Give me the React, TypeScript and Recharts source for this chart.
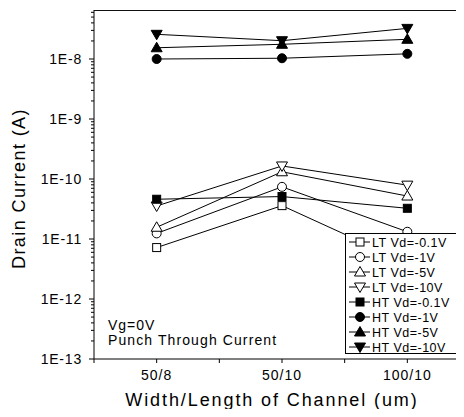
import React from 'react';
import { LineChart, Line, XAxis, YAxis, Legend, Customized } from 'recharts';

const categories = ['50/8', '50/10', '100/10'];
const ltVd01 = [7.2e-12, 3.6e-11, 4.0e-12];
const ltVd1 = [1.24e-11, 7.4e-11, 1.32e-11];
const ltVd5 = [1.57e-11, 1.32e-10, 5.2e-11];
const ltVd10 = [3.55e-11, 1.65e-10, 7.9e-11];
const htVd01 = [4.6e-11, 5.1e-11, 3.25e-11];
const htVd1 = [1.0e-8, 1.03e-8, 1.22e-8];
const htVd5 = [1.54e-8, 1.76e-8, 2.13e-8];
const htVd10 = [2.58e-8, 2.02e-8, 3.24e-8];

const yMax = 6.56e-8;
const yMin = 1e-13;
const xTickPositions = [0.5, 1, 1.5, 2, 2.5, 3, 3.5];

const FONT = "Arial, 'Liberation Sans', sans-serif";

type Kind = 'square' | 'circle' | 'up' | 'down';

const seriesDefs: { key: string; name: string; values: number[]; kind: Kind; filled: boolean }[] = [
  { key: 'ltVd01', name: 'LT Vd=-0.1V', values: ltVd01, kind: 'square', filled: false },
  { key: 'ltVd1', name: 'LT Vd=-1V', values: ltVd1, kind: 'circle', filled: false },
  { key: 'ltVd5', name: 'LT Vd=-5V', values: ltVd5, kind: 'up', filled: false },
  { key: 'ltVd10', name: 'LT Vd=-10V', values: ltVd10, kind: 'down', filled: false },
  { key: 'htVd01', name: 'HT Vd=-0.1V', values: htVd01, kind: 'square', filled: true },
  { key: 'htVd1', name: 'HT Vd=-1V', values: htVd1, kind: 'circle', filled: true },
  { key: 'htVd5', name: 'HT Vd=-5V', values: htVd5, kind: 'up', filled: true },
  { key: 'htVd10', name: 'HT Vd=-10V', values: htVd10, kind: 'down', filled: true },
];

const data = categories.map((c, i) => {
  const row: Record<string, number | string> = { x: i + 1, cat: c };
  seriesDefs.forEach((s) => {
    row[s.key] = s.values[i];
  });
  return row;
});

const yTicks: number[] = (() => {
  const t: number[] = [];
  for (let e = -13; e <= -8; e++) {
    for (let m = 1; m <= 9; m++) {
      const v = m * Math.pow(10, e);
      if (v <= yMax) t.push(v);
    }
  }
  return t;
})();

const PLOT_LEFT = 86;
const PLOT_TOP = 2;
const CHART_W = 462;
const CHART_H = 401;

function Marker({ kind, filled, cx, cy }: { kind: Kind; filled: boolean; cx: number; cy: number }) {
  const fill = filled ? '#000' : '#fff';
  const common = { fill, stroke: '#000', strokeWidth: 1 };
  if (kind === 'square') return <rect x={cx - 4} y={cy - 4} width={8} height={8} {...common} />;
  if (kind === 'circle') return <circle cx={cx} cy={cy} r={4.5} {...common} />;
  if (kind === 'up')
    return <polygon points={`${cx},${cy - 5.5} ${cx + 5.5},${cy + 4} ${cx - 5.5},${cy + 4}`} {...common} />;
  return <polygon points={`${cx},${cy + 5.5} ${cx + 5.5},${cy - 4} ${cx - 5.5},${cy - 4}`} {...common} />;
}

const YTick = (props: any) => {
  const { x, y, payload } = props;
  const v = payload.value as number;
  const lg = Math.log10(v);
  const major = Math.abs(lg - Math.round(lg)) < 1e-6;
  return (
    <g>
      <line x1={x - (major ? 5 : 3)} x2={x} y1={y} y2={y} stroke="#000" strokeWidth={1} />
      {major && (
        <text x={x - 12} y={y + 5} textAnchor="end" fontSize={14} fontFamily={FONT} letterSpacing={0.8} fill="#000">
          {`1E${Math.round(lg)}`}
        </text>
      )}
    </g>
  );
};

const XTick = (props: any) => {
  const { x, y, payload } = props;
  const v = payload.value as number;
  const idx = v - 1;
  const label = Number.isInteger(v) && idx >= 0 && idx < categories.length ? categories[idx] : '';
  return (
    <g>
      <line x1={x} x2={x} y1={y} y2={y + 4} stroke="#000" strokeWidth={1} />
      {label && (
        <text x={x} y={y + 21} textAnchor="middle" fontSize={14} fontFamily={FONT} letterSpacing={1} fill="#000">
          {label}
        </text>
      )}
    </g>
  );
};

const LegendContent = () => (
  <svg width={115} height={121} style={{ display: 'block' }}>
    <rect x={0.5} y={0.5} width={114} height={120} fill="#fff" stroke="#000" strokeWidth={1} />
    {seriesDefs.map((s, i) => {
      const cy = 9 + i * 15;
      return (
        <g key={s.key}>
          <line x1={4} x2={25} y1={cy} y2={cy} stroke="#000" strokeWidth={1} />
          <Marker kind={s.kind} filled={s.filled} cx={15} cy={cy} />
          <text x={27} y={cy + 4.5} fontSize={12.5} fontFamily={FONT} letterSpacing={0.5} fill="#000">
            {s.name}
          </text>
        </g>
      );
    })}
  </svg>
);

const Annotation = () => (
  <g>
    <text x={100} y={322} fontSize={14} fontFamily={FONT} letterSpacing={1} fill="#000">
      Vg=0V
    </text>
    <text x={100} y={337} fontSize={14} fontFamily={FONT} letterSpacing={1.1} fill="#000">
      Punch Through Current
    </text>
  </g>
);

export default function App() {
  return (
    <div style={{ position: 'relative', width: 456, height: CHART_H, overflow: 'hidden' }}>
      <LineChart width={CHART_W} height={CHART_H} data={data} margin={{ top: PLOT_TOP, right: 0, bottom: 0, left: 0 }}>
        <XAxis
          dataKey="x"
          type="number"
          domain={[0.5, 3.5]}
          ticks={xTickPositions}
          interval={0}
          tickSize={0}
          tickMargin={0}
          tickLine={false}
          tick={<XTick />}
          height={50}
          axisLine={{ stroke: '#000', strokeWidth: 1 }}
          label={(p: any) => {
            const vb = p.viewBox || {};
            return (
              <text
                x={vb.x + vb.width / 2 - 10}
                y={vb.y + 47}
                textAnchor="middle"
                fontSize={18}
                fontFamily={FONT}
                letterSpacing={1.9}
                fill="#000"
              >
                Width/Length of Channel (um)
              </text>
            );
          }}
        />
        <YAxis
          type="number"
          scale="log"
          domain={[yMin, yMax]}
          allowDataOverflow
          ticks={yTicks}
          interval={0}
          tickSize={0}
          tickMargin={0}
          tickLine={false}
          tick={<YTick />}
          width={PLOT_LEFT}
          axisLine={{ stroke: '#000', strokeWidth: 1 }}
          label={(p: any) => {
            const vb = p.viewBox || {};
            const cx = 17;
            const cy = vb.y + vb.height / 2 + 4;
            return (
              <text
                x={cx}
                y={cy}
                transform={`rotate(-90, ${cx}, ${cy})`}
                textAnchor="middle"
                fontSize={18}
                fontFamily={FONT}
                letterSpacing={1.4}
                fill="#000"
              >
                Drain Current (A)
              </text>
            );
          }}
        />
        {seriesDefs.map((s) => (
          <Line
            key={s.key}
            dataKey={s.key}
            name={s.name}
            stroke="#000"
            strokeWidth={1}
            isAnimationActive={false}
            dot={(p: any) => (
              <Marker key={`${s.key}-${p.index}`} kind={s.kind} filled={s.filled} cx={p.cx} cy={p.cy} />
            )}
            activeDot={false}
          />
        ))}
        <Customized component={<Annotation />} />
        <Legend
          layout="vertical"
          align="center"
          verticalAlign="middle"
          content={<LegendContent />}
          wrapperStyle={{ left: 337, top: 225, width: 115, height: 121 }}
        />
      </LineChart>
      <div
        style={{
          position: 'absolute',
          left: PLOT_LEFT - 0.5,
          top: 1.5,
          width: CHART_W - PLOT_LEFT,
          height: 1.5,
          background: '#111',
          pointerEvents: 'none',
        }}
      />
    </div>
  );
}
